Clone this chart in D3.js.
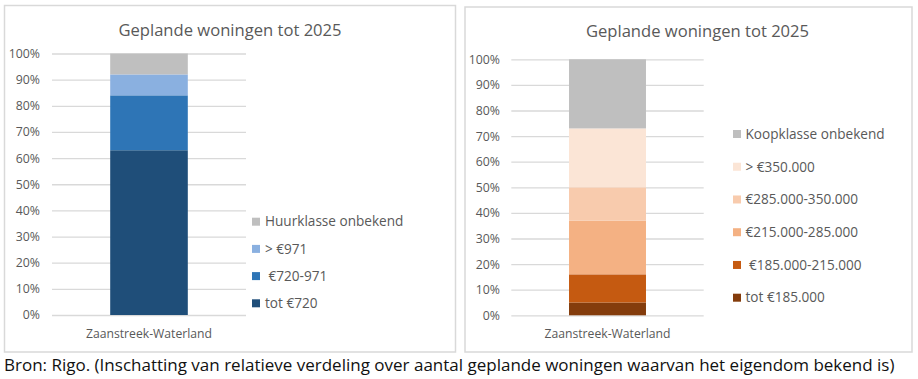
<!DOCTYPE html>
<html><head><meta charset="utf-8">
<script src="https://cdn.jsdelivr.net/npm/d3@7"></script>
<style>
html,body{margin:0;padding:0;background:#fff;}
svg text{white-space:pre;}
</style></head>
<body>
<svg id="c" width="918" height="379"></svg>
<script>
const title = "Geplande woningen tot 2025";
const category = ["Zaanstreek-Waterland"];
const tickLabels = ["0%","10%","20%","30%","40%","50%","60%","70%","80%","90%","100%"];
const tickValues = [0,10,20,30,40,50,60,70,80,90,100];

// Left chart: huur (bottom to top)
const huurSeries = ["tot €720", " €720-971", "> €971", "Huurklasse onbekend"];
const huurValues = [63, 21, 8, 8];
const huurColors = ["#1F4E79", "#2E75B6", "#8AB0E0", "#BFBFBF"];

// Right chart: koop (bottom to top)
const koopSeries = ["tot €185.000", " €185.000-215.000", "€215.000-285.000", "€285.000-350.000", "> €350.000", "Koopklasse onbekend"];
const koopValues = [5, 11, 21, 13, 23, 27];
const koopColors = ["#843C0C", "#C55A11", "#F4B183", "#F8CBAD", "#FBE5D6", "#BFBFBF"];

const caption = "Bron: Rigo. (Inschatting van relatieve verdeling over aantal geplande woningen waarvan het eigendom bekend is)";

const svg = d3.select("#c");
const FONT = "'Open Sans', sans-serif";

function drawPanel(cfg, series, values, colors) {
  const g = svg.append("g");
  g.append("rect").attr("x", cfg.bx).attr("y", cfg.by).attr("width", cfg.bw).attr("height", cfg.bh)
    .attr("fill", "#fff").attr("stroke", "#D9D9D9").attr("stroke-width", 1.5);
  g.append("text").attr("x", cfg.tx).attr("y", cfg.ty).attr("text-anchor", "middle")
    .attr("font-family", FONT).attr("font-size", 16.6).attr("fill", "#595959").text(title);

  const y = d3.scaleLinear().domain([0, 100]).range([cfg.y0, cfg.y1]);
  const x = d3.scaleBand().domain(category).range([cfg.x0, cfg.x1]).paddingInner(0.6).paddingOuter(0.3);

  // gridlines
  const grid = g.append("g").attr("transform", `translate(${cfg.x0},0)`)
    .call(d3.axisLeft(y).tickValues(tickValues).tickSize(-(cfg.x1 - cfg.x0)).tickFormat(""));
  grid.select(".domain").remove();
  grid.selectAll("line").attr("stroke", "#D9D9D9").attr("stroke-width", 1.3);

  // tick labels
  const ax = g.append("g").attr("transform", `translate(${cfg.lx},0)`)
    .call(d3.axisLeft(y).tickValues(tickValues).tickSize(0).tickPadding(0).tickFormat((d, i) => tickLabels[i]));
  ax.select(".domain").remove();
  ax.selectAll("text").attr("font-family", FONT).attr("font-size", 12.3).attr("fill", "#595959");

  // stacked bar
  const row = {cat: category[0]};
  series.forEach((s, i) => row[s] = values[i]);
  const stack = d3.stack().keys(series)([row]);
  g.selectAll("rect.seg").data(stack).join("rect").attr("class", "seg")
    .attr("x", x(category[0])).attr("width", x.bandwidth())
    .attr("y", d => y(d[0][1])).attr("height", d => y(d[0][0]) - y(d[0][1]))
    .attr("fill", (d, i) => colors[i]);

  // category label
  g.append("text").attr("x", x(category[0]) + x.bandwidth() / 2).attr("y", cfg.cy)
    .attr("text-anchor", "middle").attr("font-family", FONT).attr("font-size", 12.2)
    .attr("fill", "#595959").text(category[0]);

  // legend (reverse order, top = last series)
  const order = d3.range(series.length).reverse();
  const ly = d3.scalePoint().domain(order).range([cfg.ly0, cfg.ly1]);
  const lg = g.selectAll("g.leg").data(order).join("g").attr("class", "leg")
    .attr("transform", i => `translate(0,${ly(i)})`);
  lg.append("rect").attr("x", cfg.mx).attr("y", -4).attr("width", 8).attr("height", 8)
    .attr("fill", i => colors[i]);
  lg.append("text").attr("x", cfg.mtx).attr("y", 0).attr("dy", "0.35em")
    .attr("font-family", FONT).attr("font-size", 13.6).attr("fill", "#595959")
    .text(i => series[i]);
}

drawPanel({bx:4.5, by:5.5, bw:451, bh:346.5, tx:230, ty:36, x0:52, x1:246, y0:315, y1:53.5,
  lx:40, cy:338, mx:252, mtx:265, ly0:221.7, ly1:303.3}, huurSeries, huurValues, huurColors);
drawPanel({bx:465, by:7, bw:447, bh:345, tx:697.5, ty:37, x0:511.3, x1:703.7, y0:315.3, y1:59.3,
  lx:500, cy:338, mx:733, mtx:745.5, ly0:134, ly1:297.7}, koopSeries, koopValues, koopColors);

svg.append("text").attr("x", 4).attr("y", 371).attr("font-family", FONT).attr("font-size", 17)
  .attr("fill", "#111").text(caption);
</script>
</body></html>
